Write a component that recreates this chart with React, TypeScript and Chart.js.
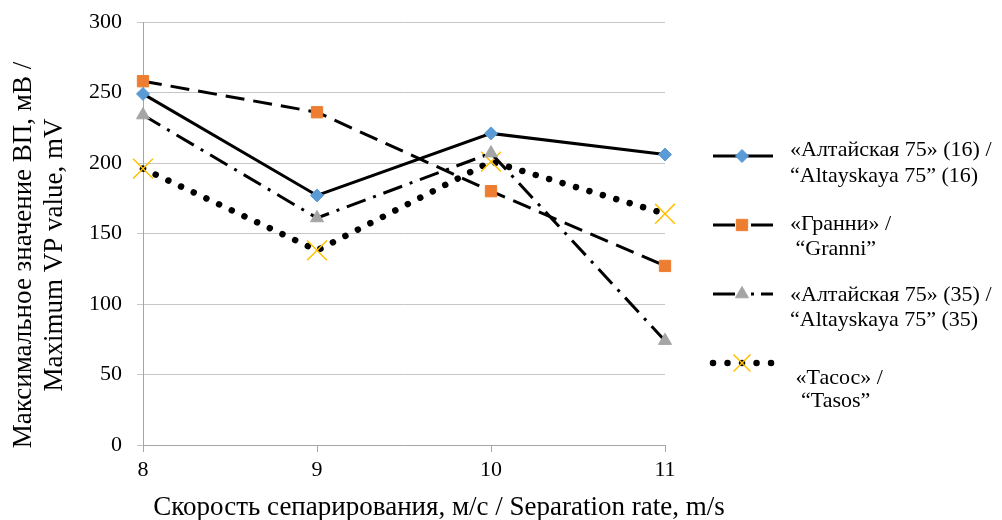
import React, { useEffect, useRef } from 'react';
import { Chart, registerables } from 'chart.js';
import { drawPoint } from 'chart.js/helpers';

Chart.register(...registerables);

const speeds = [8, 9, 10, 11];
const altayskaya16 = [249, 177, 221, 206];
const granni = [258, 236, 180, 127];
const altayskaya35 = [234, 161, 207, 74];
const tasos = [196, 138, 201, 164];
const yTickValues = [0, 50, 100, 150, 200, 250, 300];
const legendLabels = [
  ['«Алтайская 75» (16) /', '“Altayskaya 75” (16)'],
  ['«Гранни» /', ' “Granni”'],
  ['«Алтайская 75» (35) /', '“Altayskaya 75” (35)'],
  [' «Тасос» /', '  “Tasos”'],
];
const yTitle = ['Максимальное значение ВП, мВ /', 'Maximum VP value, mV'];
const xTitle = 'Скорость сепарирования, м/с / Separation rate, m/s';

const FONT = "'Liberation Serif', 'Times New Roman', serif";

const legendSampleY = [156, 225, 294, 363];
const legendBaselineY = [[156, 182], [230, 255], [301, 326], [384, 407]];

const extrasPlugin = {
  id: 'extras',
  afterDraw(chart: any) {
    const ctx = chart.ctx;
    ctx.save();
    // axis titles
    ctx.fillStyle = '#000';
    ctx.font = `27px ${FONT}`;
    ctx.textAlign = 'center';
    ctx.textBaseline = 'alphabetic';
    ctx.fillText(xTitle, 439, 515);
    const cy = 255;
    [31, 62].forEach((bx, k) => {
      ctx.save();
      ctx.translate(bx, cy);
      ctx.rotate(-Math.PI / 2);
      ctx.fillText(yTitle[k], 0, 0);
      ctx.restore();
    });

    // legend
    chart.data.datasets.forEach((ds: any, i: number) => {
      const y = legendSampleY[i];
      ctx.save();
      ctx.strokeStyle = ds.borderColor;
      ctx.lineWidth = ds.borderWidth;
      ctx.lineCap = ds.borderCapStyle || 'butt';
      ctx.setLineDash(ds.legendDash || ds.borderDash || []);
      ctx.beginPath();
      ctx.moveTo(713, y);
      ctx.lineTo(773, y);
      ctx.stroke();
      ctx.restore();
      ctx.save();
      ctx.fillStyle = ds.pointBackgroundColor;
      ctx.strokeStyle = ds.pointBorderColor;
      ctx.lineWidth = ds.pointBorderWidth;
      ctx.setLineDash([]);
      drawPoint(ctx, { pointStyle: ds.pointStyle, radius: ds.legendPointRadius || ds.pointRadius, borderWidth: ds.pointBorderWidth, rotation: 0 } as any, 742, y);
      ctx.restore();
      ctx.fillStyle = '#000';
      ctx.font = `22px ${FONT}`;
      ctx.textAlign = 'left';
      ctx.textBaseline = 'alphabetic';
      legendLabels[i].forEach((t, k) => ctx.fillText(t, 790, legendBaselineY[i][k]));
    });
    ctx.restore();
  },
};

const bgPlugin = {
  id: 'bg',
  beforeDraw(chart: any) {
    const ctx = chart.ctx;
    ctx.save();
    ctx.fillStyle = '#fff';
    ctx.fillRect(0, 0, chart.width, chart.height);
    ctx.restore();
  },
};

export default function App() {
  const ref = useRef<HTMLCanvasElement>(null);
  useEffect(() => {
    if (!ref.current) return;
    const pts = (arr: number[]) => speeds.map((x, i) => ({ x, y: arr[i] }));
    const chart = new Chart(ref.current, {
      type: 'line',
      data: {
        datasets: [
          {
            label: legendLabels[0].join(' '),
            data: pts(altayskaya16),
            borderColor: '#000',
            borderWidth: 3,
            pointStyle: 'rectRot',
            pointRadius: 6.5,
            pointBackgroundColor: '#5B9BD5',
            pointBorderColor: '#5B9BD5',
            pointBorderWidth: 1,
            tension: 0,
            clip: false,
          },
          {
            label: legendLabels[1].join(' '),
            data: pts(granni),
            borderColor: '#000',
            borderWidth: 3,
            borderDash: [19, 9],
            legendDash: [22, 16, 24],
            pointStyle: 'rect',
            pointRadius: 8,
            pointBackgroundColor: '#ED7D31',
            pointBorderColor: '#ED7D31',
            pointBorderWidth: 1,
            tension: 0,
            clip: false,
          },
          {
            label: legendLabels[2].join(' '),
            data: pts(altayskaya35),
            borderColor: '#000',
            borderWidth: 3,
            borderDash: [20, 8, 3, 8],
            legendDash: [22, 16, 3, 7, 12],
            pointStyle: 'triangle',
            pointRadius: 7.5,
            pointBackgroundColor: '#A5A5A5',
            pointBorderColor: '#A5A5A5',
            pointBorderWidth: 1,
            tension: 0,
            clip: false,
          },
          {
            label: legendLabels[3].join(' '),
            data: pts(tasos),
            borderColor: '#000',
            borderWidth: 6.5,
            borderDash: [0.01, 14],
            legendDash: [0.01, 14.5],
            borderCapStyle: 'round',
            pointStyle: 'crossRot',
            pointRadius: 14,
            legendPointRadius: 12,
            pointBackgroundColor: '#FFC000',
            pointBorderColor: '#FFC000',
            pointBorderWidth: 1.5,
            tension: 0,
            clip: false,
          },
        ] as any,
      },
      options: {
        responsive: false,
        animation: false,
        layout: { padding: { left: 0, top: 22, right: 337, bottom: 0 } },
        plugins: { legend: { display: false }, tooltip: { enabled: false } },
        scales: {
          x: {
            type: 'linear',
            min: 8,
            max: 11,
            afterBuildTicks: (s: any) => { s.ticks = speeds.map((v) => ({ value: v })); },
            ticks: { font: { family: FONT, size: 22 }, color: '#000', padding: 5 },
            grid: { drawOnChartArea: false, drawTicks: true, tickLength: 7, color: '#a6a6a6' },
            border: { color: '#a6a6a6' },
            afterFit: (s: any) => { s.height = 75; s.paddingLeft = 0; s.paddingRight = 0; },
          },
          y: {
            min: 0,
            max: 300,
            afterBuildTicks: (s: any) => { s.ticks = yTickValues.map((v) => ({ value: v })); },
            ticks: { font: { family: FONT, size: 22 }, color: '#000', padding: 15 },
            grid: { color: '#c6c6c6', tickLength: 6 },
            border: { color: '#a6a6a6' },
            afterFit: (s: any) => { s.width = 143; s.paddingTop = 0; s.paddingBottom = 0; },
          },
        },
      } as any,
      plugins: [bgPlugin, extrasPlugin],
    });
    return () => chart.destroy();
  }, []);
  return (
    <div style={{ position: 'absolute', left: 0, top: 0, width: 1002, height: 520 }}>
      <canvas ref={ref} width={1002} height={520} style={{ display: 'block' }} />
    </div>
  );
}
